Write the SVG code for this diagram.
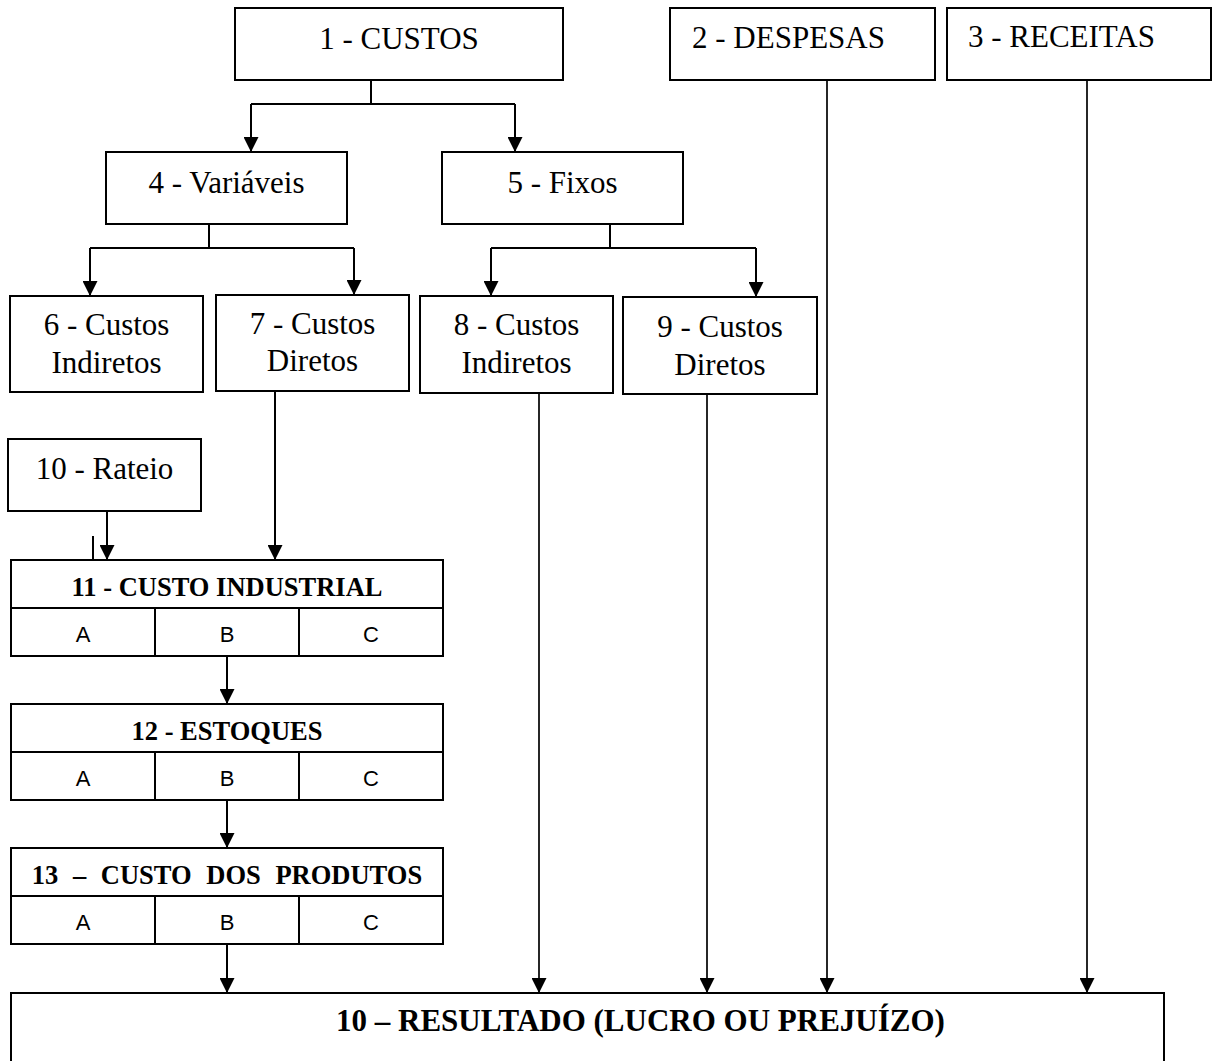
<svg xmlns="http://www.w3.org/2000/svg" width="1212" height="1061" viewBox="0 0 1212 1061">
<defs>
<style>
.box{fill:#fff;stroke:#000;stroke-width:2}
.ln{fill:none;stroke:#000;stroke-width:2}
.t{font-family:"Liberation Serif","Times New Roman",serif;font-size:31px;fill:#000}
.c{text-anchor:middle}
.b{font-family:"Liberation Serif","Times New Roman",serif;font-size:26.5px;font-weight:bold;fill:#000;text-anchor:middle}
.abc{font-family:"Liberation Sans",Arial,sans-serif;font-size:22px;fill:#000;text-anchor:middle}
.conn{fill:none;stroke:#000;stroke-width:2}
.long{stroke-width:1.7}
</style>
<marker id="ah" markerUnits="userSpaceOnUse" markerWidth="15" markerHeight="15" refX="15" refY="7.5" orient="auto" viewBox="0 0 15 15">
<path d="M0,0 L15,7.5 L0,15 z" fill="#000"/>
</marker>
</defs>
<rect width="1212" height="1061" fill="#fff"/>

<g id="connectors">
<path class="conn" d="M371,80 V104 M251,104 H515"/>
<path class="conn" d="M251,104 V152" marker-end="url(#ah)"/>
<path class="conn" d="M515,104 V152" marker-end="url(#ah)"/>
<path class="conn" d="M209,224 V248 M90,248 H354"/>
<path class="conn" d="M90,248 V296" marker-end="url(#ah)"/>
<path class="conn" d="M354,248 V295" marker-end="url(#ah)"/>
<path class="conn" d="M610,224 V248 M491,248 H756"/>
<path class="conn" d="M491,248 V296" marker-end="url(#ah)"/>
<path class="conn" d="M756,248 V297" marker-end="url(#ah)"/>
<path class="conn" d="M275,391 V560" marker-end="url(#ah)"/>
<path class="conn" d="M107,511 V560" marker-end="url(#ah)"/>
<path class="conn" d="M93,536 V560"/>
<path class="conn" d="M227,656 V704" marker-end="url(#ah)"/>
<path class="conn" d="M227,800 V848" marker-end="url(#ah)"/>
<path class="conn" d="M227,944 V993" marker-end="url(#ah)"/>
<path class="conn long" d="M539,393 V993" marker-end="url(#ah)"/>
<path class="conn long" d="M707,394 V993" marker-end="url(#ah)"/>
<path class="conn long" d="M827,80 V993" marker-end="url(#ah)"/>
<path class="conn long" d="M1087,80 V993" marker-end="url(#ah)"/>
</g>

<g id="n1"><rect class="box" x="235" y="8" width="328" height="72"/><text class="t c" x="399" y="49">1 - CUSTOS</text></g>
<g id="n2"><rect class="box" x="670" y="8" width="265" height="72"/><text class="t" x="692" y="48">2 - DESPESAS</text></g>
<g id="n3"><rect class="box" x="947" y="8" width="264" height="72"/><text class="t" x="968" y="47">3 - RECEITAS</text></g>
<g id="n4"><rect class="box" x="106" y="152" width="241" height="72"/><text class="t c" x="226.5" y="193">4 - Variáveis</text></g>
<g id="n5"><rect class="box" x="442" y="152" width="241" height="72"/><text class="t c" x="562.5" y="193">5 - Fixos</text></g>
<g id="n6"><rect class="box" x="10" y="296" width="193" height="96"/><text class="t c" x="106.5" y="335">6 - Custos</text><text class="t c" x="106.5" y="373">Indiretos</text></g>
<g id="n7"><rect class="box" x="216" y="295" width="193" height="96"/><text class="t c" x="312.5" y="334">7 - Custos</text><text class="t c" x="312.5" y="371">Diretos</text></g>
<g id="n8"><rect class="box" x="420" y="296" width="193" height="97"/><text class="t c" x="516.5" y="335">8 - Custos</text><text class="t c" x="516.5" y="373">Indiretos</text></g>
<g id="n9"><rect class="box" x="623" y="297" width="194" height="97"/><text class="t c" x="720" y="337">9 - Custos</text><text class="t c" x="720" y="375">Diretos</text></g>
<g id="n10"><rect class="box" x="8" y="439" width="193" height="72"/><text class="t c" x="104.5" y="479">10 - Rateio</text></g>

<g id="n11">
<rect class="box" x="11" y="560" width="432" height="96"/>
<path class="ln" d="M11,608 H443 M155,608 V656 M299,608 V656"/>
<text class="b" x="227" y="596">11 - CUSTO INDUSTRIAL</text>
<text class="abc" x="83" y="642">A</text><text class="abc" x="227" y="642">B</text><text class="abc" x="371" y="642">C</text>
</g>
<g id="n12">
<rect class="box" x="11" y="704" width="432" height="96"/>
<path class="ln" d="M11,752 H443 M155,752 V800 M299,752 V800"/>
<text class="b" x="227" y="740">12 - ESTOQUES</text>
<text class="abc" x="83" y="786">A</text><text class="abc" x="227" y="786">B</text><text class="abc" x="371" y="786">C</text>
</g>
<g id="n13">
<rect class="box" x="11" y="848" width="432" height="96"/>
<path class="ln" d="M11,896 H443 M155,896 V944 M299,896 V944"/>
<text class="b" x="227" y="884" word-spacing="8">13 – CUSTO DOS PRODUTOS</text>
<text class="abc" x="83" y="930">A</text><text class="abc" x="227" y="930">B</text><text class="abc" x="371" y="930">C</text>
</g>
<g id="n14">
<rect class="box" x="11" y="993" width="1153" height="90"/>
<text class="b" style="font-size:31px;text-anchor:start" x="336" y="1031">10 – RESULTADO (LUCRO OU PREJUÍZO)</text>
</g>
</svg>
